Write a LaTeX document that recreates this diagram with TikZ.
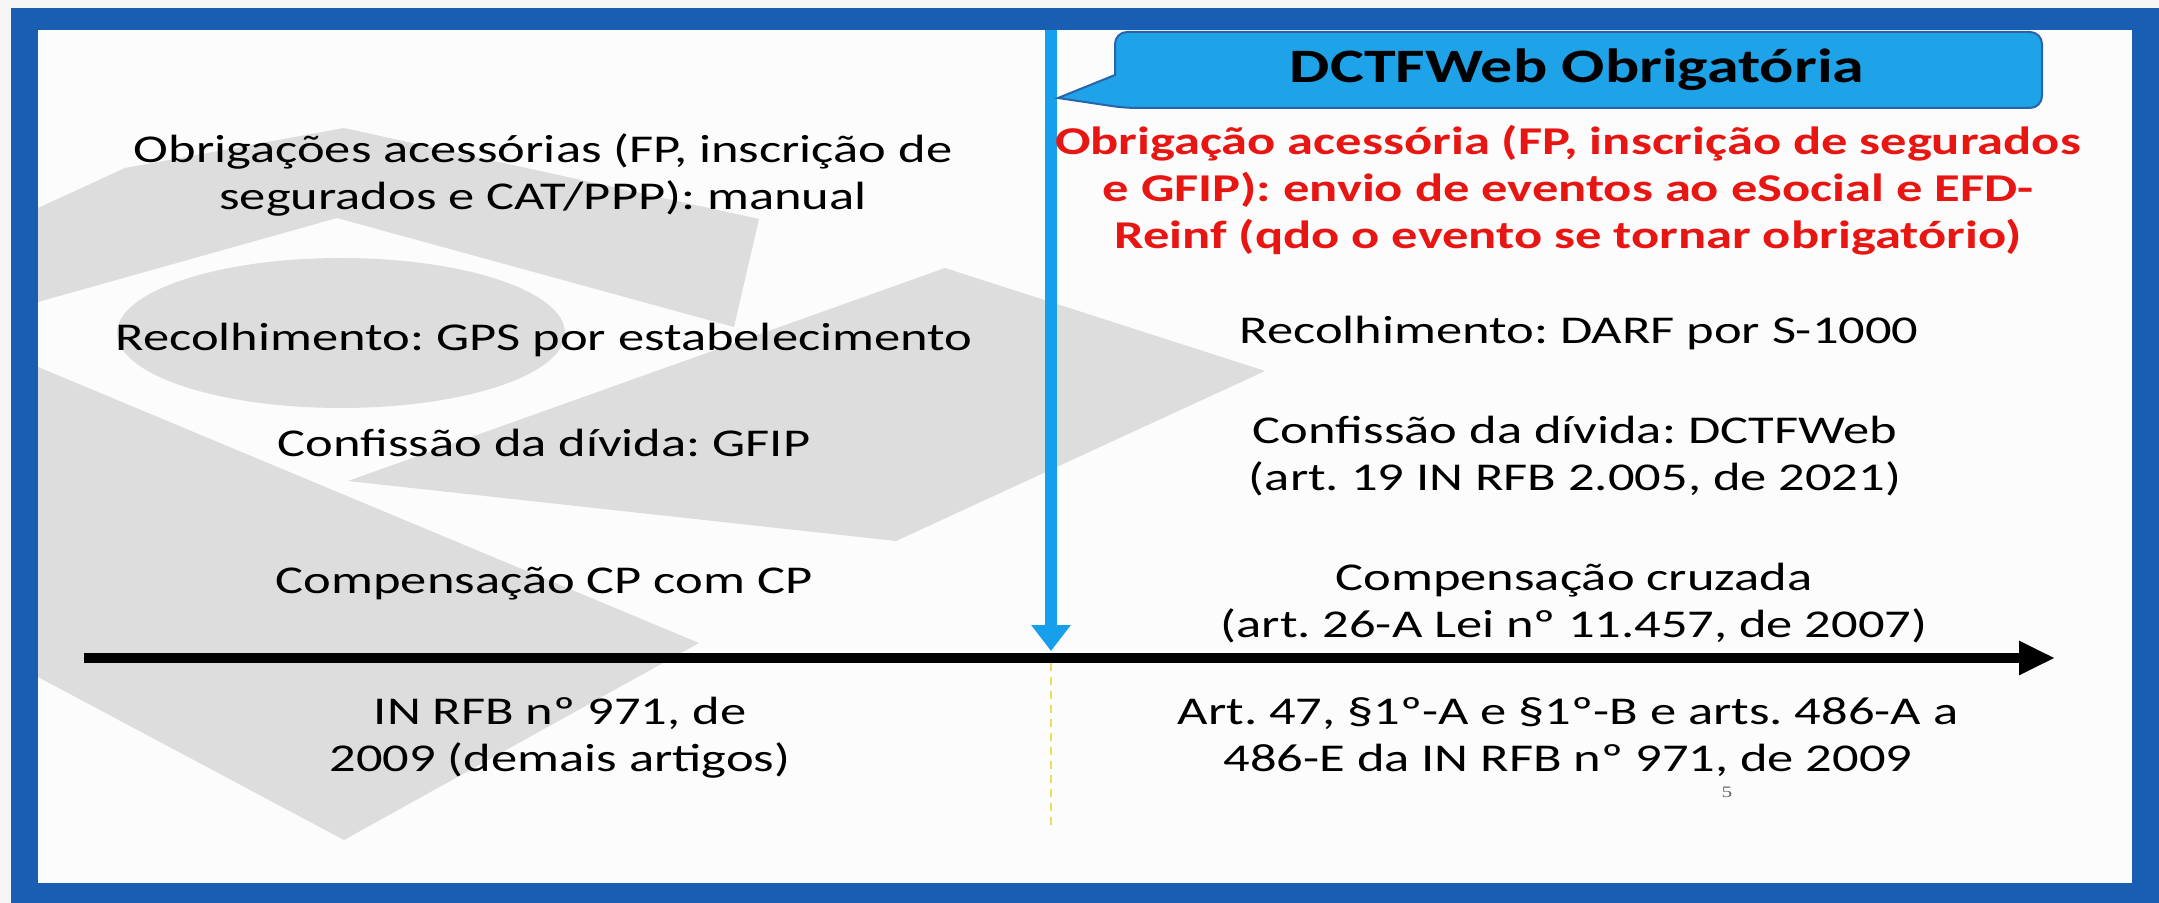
\documentclass[tikz,border=0pt]{standalone}
\usepackage{fontspec}
\setmainfont[FakeStretch=1.333]{Carlito}
\newfontfamily\pagenumfont[FakeStretch=1.333]{Liberation Serif}
\usetikzlibrary{arrows.meta}
\frenchspacing

\definecolor{frameblue}{RGB}{26,94,180}
\definecolor{lineblue}{RGB}{22,160,235}
\definecolor{calloutfill}{RGB}{30,162,232}
\definecolor{calloutdraw}{RGB}{40,100,170}
\definecolor{rfred}{RGB}{232,22,18}
\definecolor{wmgray}{RGB}{221,221,221}
\definecolor{paper}{RGB}{252,252,252}
\definecolor{markyellow}{RGB}{232,222,90}

\tikzset{
  txt/.style = {align=center, inner sep=0pt, font=\fontsize{19.7}{23.5}\selectfont},
  redtxt/.style = {txt, text=rfred, font=\fontsize{19.7}{23.5}\selectfont\bfseries},
  wm/.style = {fill=wmgray},
  callout/.style = {fill=calloutfill, draw=calloutdraw, line width=1pt},
}

\begin{document}
\begin{tikzpicture}[x=0.5pt, y=-0.5pt]
\useasboundingbox (0,0) rectangle (2159,903);
%\draw [help lines, step=100] (0,0) grid (2159,903);
    \fill [gray!8] (0,0) rectangle (2159,903);
    \fill [frameblue] (11,8) rectangle (2159,903);
    \fill [paper] (38,30) rectangle (2132,883);
    % watermark
    \begin{scope}
        \fill [wm] (38,208) -- (125,168) -- (344,128) -- (759,219) -- (734,327) -- (337,218) -- (38,302) -- cycle;
        \fill [wm] (341,333) ellipse [x radius = 224, y radius = 75];
        \fill [wm] (348,481) -- (945,268) -- (1265,371) -- (896,541) -- cycle;
        \fill [wm] (38,367) -- (699,643) -- (344,840) -- (38,677) -- cycle;
    \end{scope}
    % date line and callout
    \coordinate (mtop) at (1051,30);
    \coordinate (mtip) at (1051,651);
    \draw [lineblue, line width = 6pt, -{Triangle[length=13pt, width=19pt]}] (mtop) -- (mtip);
    \draw [callout] (1058,98) -- (1115,75) [rounded corners = 6pt] -- (1115,32) -- (2042,32) -- (2042,108) -- (1125,108) [sharp corners] -- cycle;
    \node (title) at (1577,70) {\fontsize{24}{28}\selectfont\bfseries DCTFWeb Obrigatória};
    % time axis
    \coordinate (tstart) at (84,658);
    \coordinate (tend) at (2055,658);
    \draw [line width = 5pt, -{Triangle[length=18pt, width=16pt]}] (tstart) -- (tend);
    \coordinate (mfoot) at (1051,663);
    \coordinate (mend) at (1051,826);
    \draw [markyellow, line width = 1pt, dash pattern = on 4pt off 3pt] (mfoot) -- (mend);
    % before
    \node [txt] (obrL) at (543,175) {Obrigações acessórias (FP, inscrição de\\segurados e CAT/PPP): manual};
    \node [txt] (recL) at (544,340) {Recolhimento: GPS por estabelecimento};
    \node [txt] (conL) at (544,443) {Confissão da dívida: GFIP};
    \node [txt] (comL) at (544,584) {Compensação CP com CP};
    \node [txt] (legL) at (560,738) {IN RFB nº 971, de\\2009 (demais artigos)};
    % after
    \node [redtxt] (obrR) at (1568,190) {Obrigação acessória (FP, inscrição de segurados\\e GFIP): envio de eventos ao eSocial e EFD-\\Reinf (qdo o evento se tornar obrigatório)};
    \node [txt] (recR) at (1579,333) {Recolhimento: DARF por S-1000};
    \node [txt] (conR) at (1575,456) {Confissão da dívida: DCTFWeb\\(art. 19 IN RFB 2.005, de 2021)};
    \node [txt] (comR) at (1574,603) {Compensação cruzada\\(art. 26-A Lei nº 11.457, de 2007)};
    \node [txt] (legR) at (1568,737) {Art. 47, §1º-A e §1º-B e arts. 486-A a\\486-E da IN RFB nº 971, de 2009};
    \node [text=gray!80!black, inner sep=0pt] (pgnum) at (1727,792) {\pagenumfont\fontsize{8}{9}\selectfont 5};
\end{tikzpicture}
\end{document}
